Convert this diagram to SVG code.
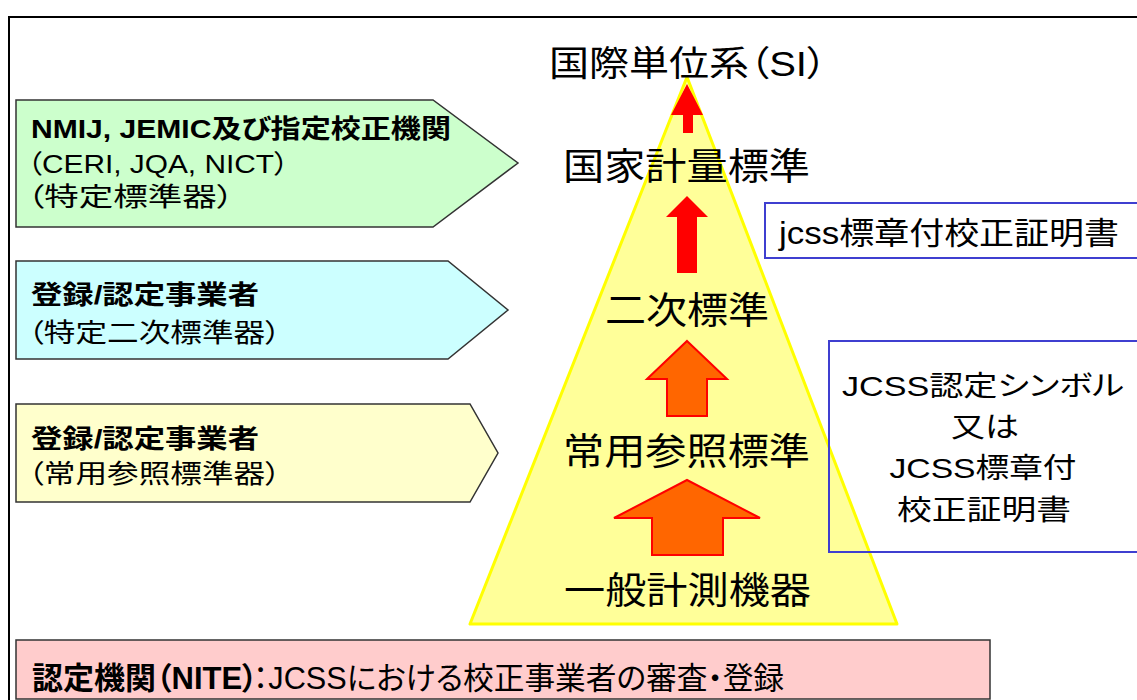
<svg xmlns="http://www.w3.org/2000/svg" width="1137" height="700" viewBox="0 0 1137 700">
<style>
  text { font-family: "Liberation Sans", "Noto Sans CJK JP", sans-serif; fill: #000; font-feature-settings: "palt" 1; }
  .b { font-weight: bold; }
  .side { font-size: 26px; }
  .tri { font-size: 37px; }
  .pent { stroke: #333; stroke-width: 1.5; }
  .blue { fill: none; stroke: #3F3FD0; stroke-width: 2; }
  .red { fill: #FF0000; stroke: none; }
  .orange { fill: #FF6600; stroke: #FF0000; stroke-width: 2; }
</style>
<rect x="0" y="0" width="1137" height="700" fill="#fff"/>
<path d="M9,700 V17 H1137" fill="none" stroke="#000" stroke-width="2"/>

<g id="pyramid">
  <polygon points="687,77 470,624 897,624" fill="#FFFF99" stroke="#FFFF00" stroke-width="3" stroke-linejoin="round"/>
</g>

<g id="connectors">
  <polygon class="red" points="687,84 703,115 693,115 693,133 683,133 683,115 671,115"/>
  <polygon class="red" points="687,196 708,217 697,217 697,273 677,273 677,217 666,217"/>
  <polygon class="orange" points="687,341 727,379 707,379 707,416 667,416 667,379 647,379"/>
  <polygon class="orange" points="687,480 760,518 723,518 723,555 652,555 652,518 614,518"/>
</g>

<g id="node-si">
  <text x="549" y="76" font-size="35" textLength="278" lengthAdjust="spacingAndGlyphs">国際単位系（SI）</text>
</g>
<g id="node-national">
  <text class="tri" x="563" y="180" textLength="247" lengthAdjust="spacingAndGlyphs">国家計量標準</text>
</g>
<g id="node-secondary">
  <text class="tri" x="605" y="324" textLength="164" lengthAdjust="spacingAndGlyphs">二次標準</text>
</g>
<g id="node-reference">
  <text class="tri" x="563" y="465" textLength="247" lengthAdjust="spacingAndGlyphs">常用参照標準</text>
</g>
<g id="node-general">
  <text class="tri" x="564" y="604" textLength="247" lengthAdjust="spacingAndGlyphs">一般計測機器</text>
</g>

<g id="node-green">
  <polygon class="pent" points="16,100 433,100 518,163 433,227 16,227" fill="#CCFFCC"/>
  <text class="side b" x="31" y="138" textLength="420" lengthAdjust="spacingAndGlyphs">NMIJ, JEMIC及び指定校正機関</text>
  <text class="side" x="27" y="173" textLength="262" lengthAdjust="spacingAndGlyphs">（CERI, JQA, NICT）</text>
  <text class="side" x="27" y="206" textLength="207" lengthAdjust="spacingAndGlyphs">（特定標準器）</text>
</g>

<g id="node-cyan">
  <polygon class="pent" points="16,261 448,261 508,310 448,359 16,359" fill="#CCFFFF"/>
  <text class="side b" x="31" y="304" textLength="228" lengthAdjust="spacingAndGlyphs">登録/認定事業者</text>
  <text class="side" x="28" y="342" textLength="253" lengthAdjust="spacingAndGlyphs">（特定二次標準器）</text>
</g>

<g id="node-yellow">
  <polygon class="pent" points="16,404 470,404 498,453 470,502 16,502" fill="#FFFFCC"/>
  <text class="side b" x="31" y="448" textLength="228" lengthAdjust="spacingAndGlyphs">登録/認定事業者</text>
  <text class="side" x="28" y="483" textLength="253" lengthAdjust="spacingAndGlyphs">（常用参照標準器）</text>
</g>

<g id="node-jcss-cert">
  <rect class="blue" x="765" y="203" width="380" height="55"/>
  <text x="779" y="244" font-size="31" textLength="340" lengthAdjust="spacingAndGlyphs">jcss標章付校正証明書</text>
</g>

<g id="node-jcss-symbol">
  <rect class="blue" x="829" y="341" width="316" height="211"/>
  <text x="983" y="396" font-size="28" text-anchor="middle" textLength="282" lengthAdjust="spacingAndGlyphs">JCSS認定シンボル</text>
  <text x="985" y="437" font-size="28" text-anchor="middle" textLength="68" lengthAdjust="spacingAndGlyphs">又は</text>
  <text x="983" y="478" font-size="28" text-anchor="middle" textLength="187" lengthAdjust="spacingAndGlyphs">JCSS標章付</text>
  <text x="984" y="520" font-size="28" text-anchor="middle" textLength="174" lengthAdjust="spacingAndGlyphs">校正証明書</text>
</g>

<g id="node-nite">
  <rect x="16" y="640" width="974" height="59" fill="#FFCCCC" stroke="#333" stroke-width="1.5"/>
  <text class="b" x="32" y="689" font-size="31">認定機関（NITE）</text>
  <text x="253" y="689" font-size="31" textLength="531" lengthAdjust="spacingAndGlyphs">：JCSSにおける校正事業者の審査・登録</text>
</g>
</svg>
